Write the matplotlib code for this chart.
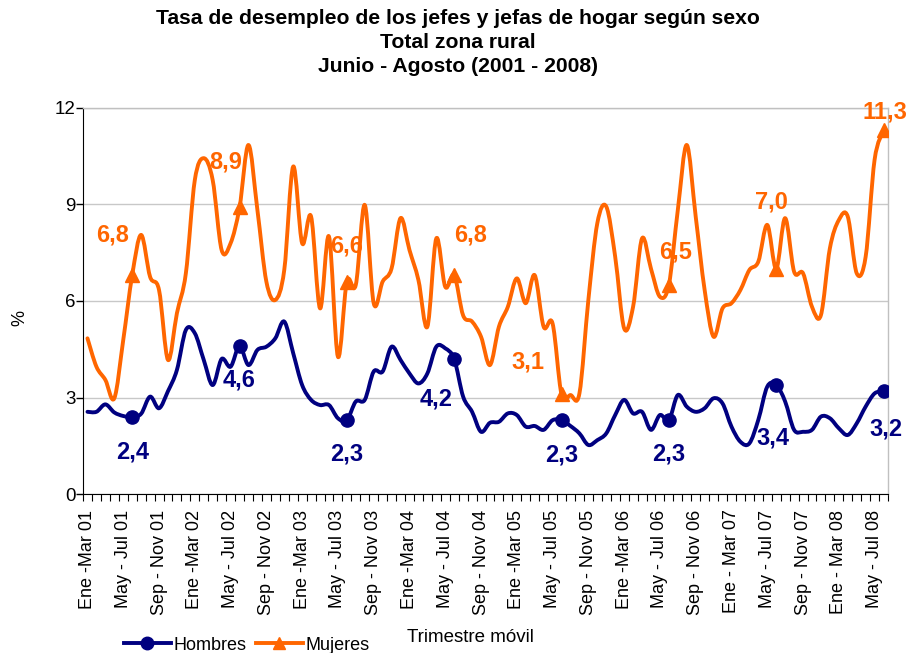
import matplotlib
matplotlib.use("Agg")
import matplotlib.pyplot as plt
from matplotlib.path import Path
from matplotlib.patches import PathPatch
from matplotlib.lines import Line2D
import numpy as np

plt.rcParams['font.family'] = ['Liberation Sans', 'DejaVu Sans']

tick_labels = ["Ene -Mar 01", "May - Jul 01", "Sep - Nov 01",
               "Ene -Mar 02", "May - Jul 02", "Sep - Nov 02",
               "Ene -Mar 03", "May - Jul 03", "Sep - Nov 03",
               "Ene -Mar 04", "May - Jul 04", "Sep - Nov 04",
               "Ene -Mar 05", "May - Jul 05", "Sep - Nov 05",
               "Ene -Mar 06", "May - Jul 06", "Sep - Nov 06",
               "Ene - Mar 07", "May - Jul 07", "Sep - Nov 07",
               "Ene - Mar 08", "May - Jul 08"]

hombres = [2.56, 2.56, 2.79, 2.54, 2.43, 2.4, 2.5, 3.03, 2.67, 3.2, 3.86, 5.1,
           5.0, 4.17, 3.39, 4.2, 3.96, 4.6, 4.01, 4.48, 4.58, 4.84,
           5.36, 4.38, 3.39, 2.93, 2.77, 2.77, 2.36, 2.3, 2.88, 2.93, 3.81, 3.81,
           4.58, 4.17, 3.75, 3.44, 3.75, 4.58, 4.53, 4.2, 3.03, 2.56, 1.94, 2.22,
           2.25, 2.51, 2.46, 2.1, 2.12, 2.0, 2.3, 2.3, 2.12, 1.89, 1.53, 1.68,
           1.89, 2.46, 2.93, 2.51, 2.56, 2.0, 2.46, 2.3, 3.08, 2.72, 2.56, 2.67,
           2.98, 2.82, 2.1, 1.63, 1.58, 2.31, 3.34, 3.4, 2.88, 2.0, 1.94, 2.0,
           2.41, 2.36, 2.05, 1.84, 2.2, 2.72, 3.13, 3.2]

mujeres = [4.84, 3.96, 3.55, 2.98, 4.79, 6.8, 8.05, 6.75, 6.34, 4.17, 5.62, 6.86,
           9.75, 10.43, 9.75, 7.58, 7.79, 8.9, 10.84, 8.82, 6.6, 6.03,
           6.96, 10.17, 7.79, 8.62, 5.77, 8.0, 4.27, 6.6, 6.5, 8.98, 5.93, 6.6,
           7.01, 8.57, 7.58, 6.65, 5.2, 7.94, 6.44, 6.8, 5.55, 5.36, 4.89, 4.01,
           5.2, 5.82, 6.7, 5.93, 6.8, 5.2, 5.3, 3.1, 3.08, 3.13, 6.03, 8.41,
           8.93, 7.37, 5.15, 5.82, 7.94, 7.0, 6.13, 6.5, 8.82, 10.84, 8.62, 6.34,
           4.89, 5.77, 5.93, 6.34, 6.96, 7.22, 8.36, 7.0, 8.57, 6.91, 6.86, 5.82,
           5.56, 7.63, 8.51, 8.62, 6.86, 7.37, 10.38, 11.3]

# Labelled points (Junio-Agosto of each year)
label_idx = [5, 17, 29, 41, 53, 65, 77, 89]
hombres_labels = ["2,4", "4,6", "2,3", "4,2", "2,3", "2,3", "3,4", "3,2"]
mujeres_labels = ["6,8", "8,9", "6,6", "6,8", "3,1", "6,5", "7,0", "11,3"]

NAVY = "#000080"
ORANGE = "#FF6600"

fig = plt.figure(figsize=(9.09, 6.53), dpi=100)
ax = fig.add_axes([83/909, 1-494.3/653, (888-83)/909, (494.3-107.6)/653])

def smooth_path(y):
    y = np.asarray(y, float)
    x = np.arange(len(y), dtype=float)
    n = len(y)
    verts = [(x[0], y[0])]
    codes = [Path.MOVETO]
    for i in range(n - 1):
        im1 = max(i - 1, 0)
        ip2 = min(i + 2, n - 1)
        c1 = (x[i] + (x[i+1] - x[im1]) / 6, y[i] + (y[i+1] - y[im1]) / 6)
        c2 = (x[i+1] - (x[ip2] - x[i]) / 6, y[i+1] - (y[ip2] - y[i]) / 6)
        verts += [c1, c2, (x[i+1], y[i+1])]
        codes += [Path.CURVE4] * 3
    return Path(verts, codes)

LW = 2.8
for data, color in [(hombres, NAVY), (mujeres, ORANGE)]:
    ax.add_patch(PathPatch(smooth_path(data), fill=False, edgecolor=color,
                           lw=LW, capstyle='round', joinstyle='round', zorder=3))

hx = np.array(label_idx)
ax.plot(hx, [hombres[i] for i in label_idx], 'o', color=NAVY, ms=9.5, zorder=4)
ax.plot(hx, [mujeres[i] for i in label_idx], '^', color=ORANGE, ms=9.5, zorder=4)

h_off = [(0, -35), (0, -34), (0, -34), (-18, -40), (0, -35), (0, -34), (-3, -53), (2, -38)]
m_off = [(-20, 40), (-14, 45), (0, 36), (16, 40), (-34, 32), (7, 33), (-5, 67), (1, 18)]
for k, i in enumerate(label_idx):
    ax.annotate(hombres_labels[k], (i, hombres[i]), xytext=h_off[k], textcoords='offset pixels',
                ha='center', va='center', color=NAVY, fontsize=17, fontweight='bold',
                annotation_clip=False, zorder=5)
    ax.annotate(mujeres_labels[k], (i, mujeres[i]), xytext=m_off[k], textcoords='offset pixels',
                ha='center', va='center', color=ORANGE, fontsize=17, fontweight='bold',
                annotation_clip=False, zorder=5)

n = len(hombres)
ax.set_xlim(-0.5, n - 0.5)
ax.set_ylim(0, 12)
ax.set_yticks([0, 3, 6, 9, 12])
ax.tick_params(axis='y', labelsize=13.5, length=5, width=1, direction='out', pad=0.5)
ax.set_xticks(np.arange(0, n, 4))
ax.set_xticklabels(tick_labels, rotation=90, fontsize=13)
ax.tick_params(axis='x', which='major', length=0, pad=11)
ax.set_xticks(np.arange(-0.5, n + 0.5, 1), minor=True)
ax.tick_params(axis='x', which='minor', length=5, width=0.8, direction='out')

ax.yaxis.grid(True, color='#C8C8C8', lw=1)
ax.set_axisbelow(True)
for s in ['top', 'right']:
    ax.spines[s].set_color('#C0C0C0')
    ax.spines[s].set_linewidth(1)
ax.spines['left'].set_color('black')
ax.spines['bottom'].set_color('black')

fig.text(20/909, 1-318/653, "%", rotation=90, ha='center', va='center', fontsize=13)

title_kw = dict(ha='center', va='center', fontsize=15.2, fontweight='bold')
fig.text(458/909, 1-19/653, "Tasa de desempleo de los jefes y jefas de hogar según sexo", **title_kw)
fig.text(458/909, 1-43/653, "Total zona rural", **title_kw)
fig.text(458/909, 1-67/653, "Junio - Agosto (2001 - 2008)", **title_kw)

fig.text(470/909, 1-637/653, "Trimestre móvil", ha='center', va='center', fontsize=13.5)

handles = [Line2D([], [], color=NAVY, lw=LW, marker='o', ms=9),
           Line2D([], [], color=ORANGE, lw=LW, marker='^', ms=9)]
fig.legend(handles, ["Hombres", "Mujeres"], loc='center left',
           bbox_to_anchor=(124/909, 1-645/653), ncol=2, frameon=False,
           fontsize=13, handlelength=2.6, handletextpad=0.15, columnspacing=0.5,
           borderpad=0, borderaxespad=0)

fig.savefig("out.png", dpi=100)
